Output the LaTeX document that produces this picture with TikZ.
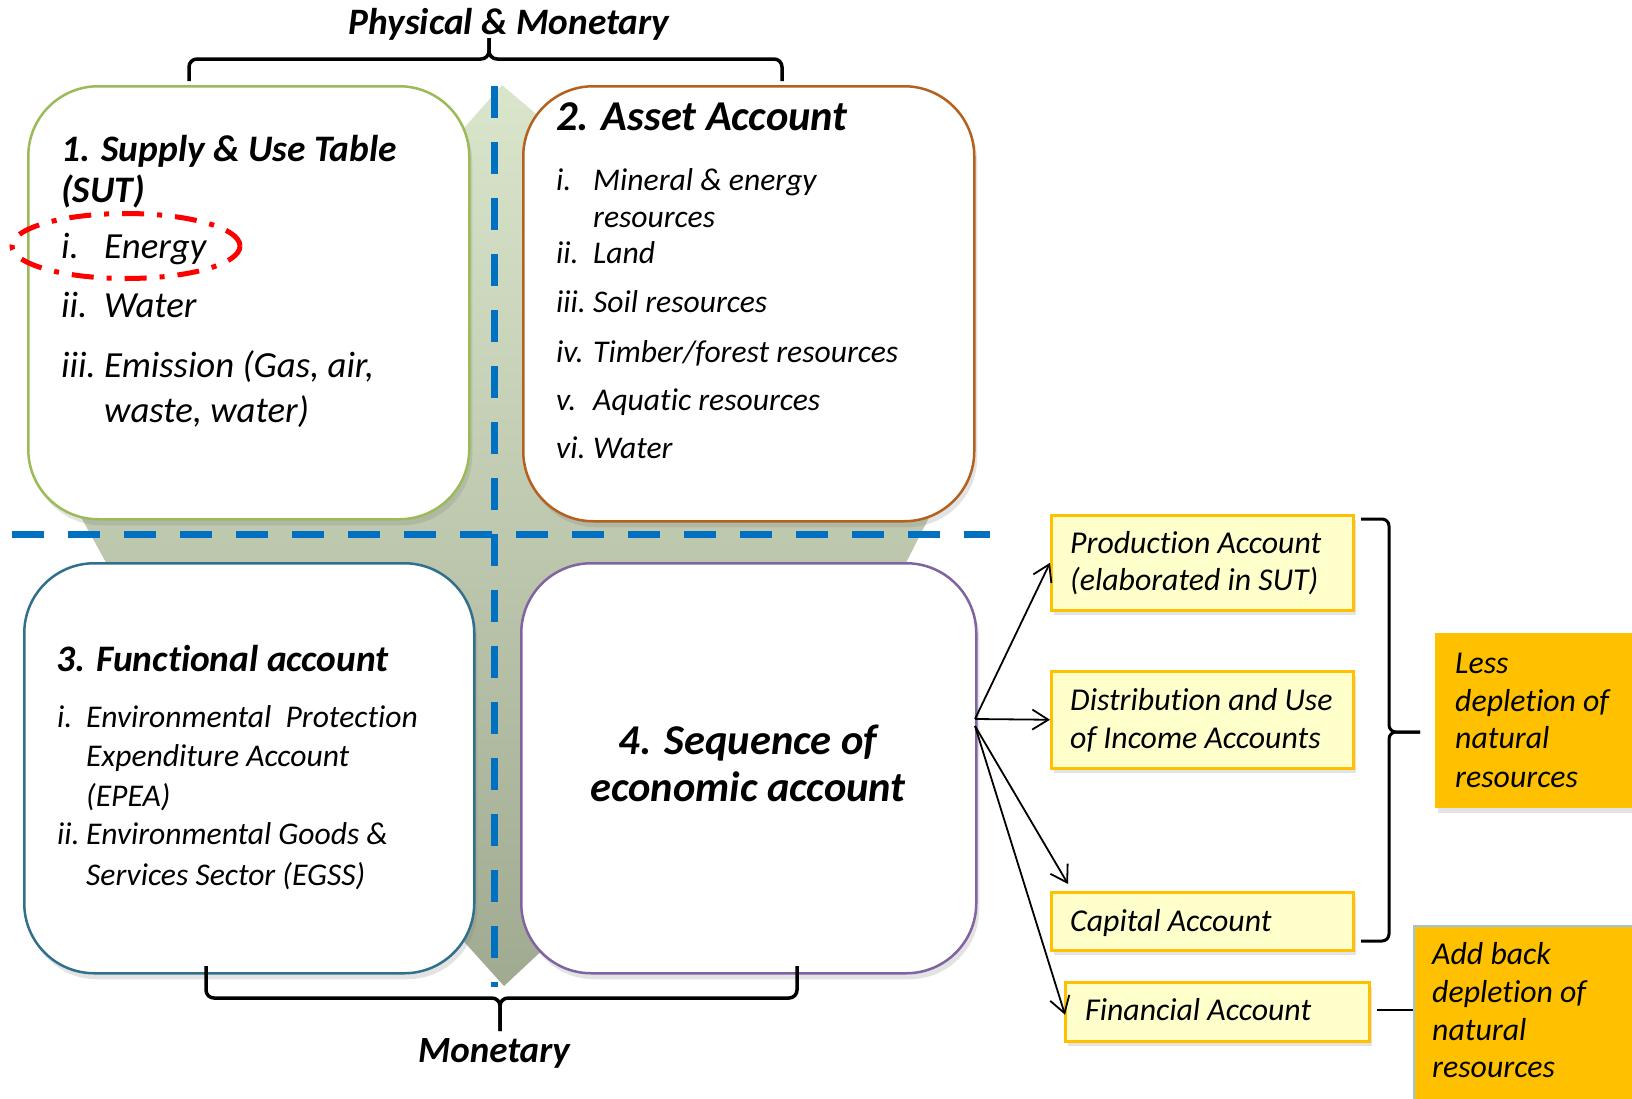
\documentclass[tikz,border=0pt]{standalone}
\usepackage{fontspec}
\setmainfont{Carlito}[Ligatures=NoCommon]
\usetikzlibrary{arrows.meta,shadows,calc,shapes.geometric}
\definecolor{dblue}{HTML}{0070C0}
\definecolor{cgreen}{HTML}{9BBB59}
\definecolor{cbrown}{HTML}{B4601F}
\definecolor{cteal}{HTML}{31708A}
\definecolor{cpurple}{HTML}{8064A2}
\definecolor{ylfill}{HTML}{FFFFCC}
\definecolor{ylline}{HTML}{FFC000}
\definecolor{orfill}{HTML}{FFC000}
\definecolor{ltblue}{HTML}{9DC3E6}
\definecolor{startop}{RGB}{218,230,204}
\definecolor{starbot}{RGB}{160,170,145}
\newcommand\fsz[1]{\fontsize{#1}{#1}\selectfont}
\begin{document}
\begin{tikzpicture}[x=1pt,y=-1pt,
  bigbox/.style={draw, line width=2.5pt, fill=white, rounded corners=70pt, inner sep=0pt, anchor=north west,
     drop shadow={shadow xshift=3pt,shadow yshift=-6pt,opacity=0.22}},
  ylbox/.style={draw=ylline, line width=2.5pt, fill=ylfill, inner sep=0pt, anchor=north west,
     drop shadow={shadow xshift=3pt,shadow yshift=-5pt,opacity=0.22}},
  orbox/.style={fill=orfill, inner sep=0pt, anchor=north west,
     drop shadow={shadow xshift=3pt,shadow yshift=-5pt,opacity=0.22}},
  txt/.style={anchor=base west, inner sep=0pt},
  ctxt/.style={anchor=base, inner sep=0pt},
  ttl/.style={font=\fsz{37.4}\bfseries\itshape},
  itA/.style={font=\fsz{36.8}\itshape},
  itB/.style={font=\fsz{31.6}\itshape},
  itC/.style={font=\fsz{31.6}\itshape},
  itD/.style={font=\fsz{31.8}\itshape},
  brace/.style={line width=3.5pt, rounded corners=8pt},
  dline/.style={dblue, line width=7pt, dash pattern=on 32pt off 24pt},
  arr/.style={line width=1.8pt, -{Straight Barb[length=16pt,width=20pt]}}
]
\useasboundingbox (0,0) rectangle (1632,1098);
\fill[white] (0,0) rectangle (1632,1098);

% background star
\shade[top color=startop, bottom color=starbot]
  (502,85) -- (700,253) -- (938,500) -- (888,598) -- (700,803) -- (504,986)
  -- (300,760) -- (120,588) -- (70,497) -- (300,314) -- cycle;

% big boxes
\node[bigbox, draw=cgreen, minimum width=441pt, minimum height=433pt] (b1) at (27,85) {};
\node[bigbox, draw=cbrown, minimum width=451pt, minimum height=435pt] (b2) at (522,85) {};
\node[bigbox, draw=cteal, minimum width=450pt, minimum height=410pt] (b3) at (23,562) {};
\node[bigbox, draw=cpurple, minimum width=455pt, minimum height=410pt] (b4) at (520,562) {};

% box 1 text
\node[txt,ttl] (t1a) at (61,161) {1. Supply \& Use Table};
\node[txt,ttl] (t1b) at (61,202) {(SUT)};
\node[txt,itA] (n1a) at (61,258) {i.};
\node[txt,itA] (s1a) at (104,258) {Energy};
\node[txt,itA] (n1b) at (61,317) {ii.};
\node[txt,itA] (s1b) at (104,317) {Water};
\node[txt,itA] (n1c) at (61,377) {iii.};
\node[txt,itA] (s1c) at (104,377) {Emission (Gas, air,};
\node[txt,itA] (s1d) at (104,422) {waste, water)};

% red ellipse
\node[draw=red, line width=5pt, dash pattern=on 22pt off 13pt on 5pt off 13pt,
      ellipse, minimum width=228pt, minimum height=65pt, inner sep=0pt] (ell) at (126,246) {};

% box 2 text
\node[txt,font=\fsz{42.5}\bfseries\itshape] (t2) at (556,130) {2. Asset Account};
\node[txt,itB] (n2a) at (556,190) {i.};
\node[txt,itB] (s2a) at (593,190) {Mineral \& energy};
\node[txt,itB] (s2b) at (593,227) {resources};
\node[txt,itB] (n2c) at (556,263) {ii.};
\node[txt,itB] (s2c) at (593,263) {Land};
\node[txt,itB] (n2d) at (556,312) {iii.};
\node[txt,itB] (s2d) at (593,312) {Soil resources};
\node[txt,itB] (n2e) at (556,362) {iv.};
\node[txt,itB] (s2e) at (593,362) {Timber/forest resources};
\node[txt,itB] (n2f) at (556,410) {v.};
\node[txt,itB] (s2f) at (593,410) {Aquatic resources};
\node[txt,itB] (n2g) at (556,458) {vi.};
\node[txt,itB] (s2g) at (593,458) {Water};

% box 3 text
\node[txt,ttl] (t3) at (56,671) {3. Functional account};
\node[txt,itC] (n3a) at (57,727) {i.};
\node[txt,itC] (s3a) at (86,727) {Environmental\ \ Protection};
\node[txt,itC] (s3b) at (86,766) {Expenditure Account};
\node[txt,itC] (s3c) at (86,806) {(EPEA)};
\node[txt,itC] (n3d) at (57,844) {ii.};
\node[txt,itC] (s3d) at (86,844) {Environmental Goods \&};
\node[txt,itC] (s3e) at (86,885) {Services Sector (EGSS)};

% box 4 text
\node[ctxt,font=\fsz{42.5}\bfseries\itshape] (t4a) at (748,754) {4. Sequence of};
\node[ctxt,font=\fsz{42.5}\bfseries\itshape] (t4b) at (748,801) {economic account};

% dashed lines
\draw[dline] (12,534) -- (990,534);
\draw[dline] (494,86) -- (494,987);

% braces
\node[ctxt,font=\fsz{37.3}\bfseries\itshape] (pm) at (509,34) {Physical \& Monetary};
\draw[brace] (189,81) -- (189,59) -- (489,59) -- (489,38);
\draw[brace] (489,38) -- (489,59) -- (782,59) -- (782,81);
\node[ctxt,font=\fsz{37}\bfseries\itshape] (mo) at (494,1062) {Monetary};
\draw[brace] (206,966) -- (206,998) -- (500,998) -- (500,1031);
\draw[brace] (500,1031) -- (500,998) -- (797,998) -- (797,966);

% yellow boxes
\node[ylbox, minimum width=302pt, minimum height=95pt] (p1) at (1050,514) {};
\node[ylbox, minimum width=302pt, minimum height=97pt] (p2) at (1050,670) {};
\node[ylbox, minimum width=302pt, minimum height=58pt] (p3) at (1050,891) {};
\node[ylbox, minimum width=304pt, minimum height=59pt] (p4) at (1064,981) {};
\node[txt,itD] (q1a) at (1070,553) {Production Account};
\node[txt,itD] (q1b) at (1070,590) {(elaborated in SUT)};
\node[txt,itD] (q2a) at (1070,710) {Distribution and Use};
\node[txt,itD] (q2b) at (1070,748) {of Income Accounts};
\node[txt,itD] (q3) at (1070,931) {Capital Account};
\node[txt,itD] (q4) at (1085,1020) {Financial Account};

% orange boxes
\node[orbox, minimum width=197pt, minimum height=175pt] (o1) at (1435,633) {};
\node[orbox, draw=ltblue, line width=1.5pt, minimum width=225pt, minimum height=180pt] (o2) at (1413,925) {};
\node[txt,itD] (r1a) at (1455,673) {Less};
\node[txt,itD] (r1b) at (1455,711) {depletion of};
\node[txt,itD] (r1c) at (1455,748) {natural};
\node[txt,itD] (r1d) at (1455,787) {resources};
\node[txt,itD] (r2a) at (1432,964) {Add back};
\node[txt,itD] (r2b) at (1432,1002) {depletion of};
\node[txt,itD] (r2c) at (1432,1040) {natural};
\node[txt,itD] (r2d) at (1432,1077) {resources};

% right brace
\draw[line width=3pt, rounded corners=7pt] (1361,519) -- (1389,519) -- (1389,732) -- (1420,732);
\draw[line width=3pt, rounded corners=7pt] (1420,732) -- (1389,732) -- (1389,941) -- (1361,941);

% arrows
\coordinate (s1) at (975,719);
\coordinate (s2) at (975,726);
\draw[arr] (s1) -- (p1.west);
\draw[arr] (s1) -- (p2.west);
\draw[arr] (s2) -- ($(p3.north west)+(18,-7)$);
\draw[arr] (s2) -- ($(p4.west)+(1,3)$);
\coordinate (fa) at ($(p4.east)+(6,-2)$);
\draw[line width=1.8pt] (fa) -- (o2.west |- fa);
\end{tikzpicture}
\end{document}
